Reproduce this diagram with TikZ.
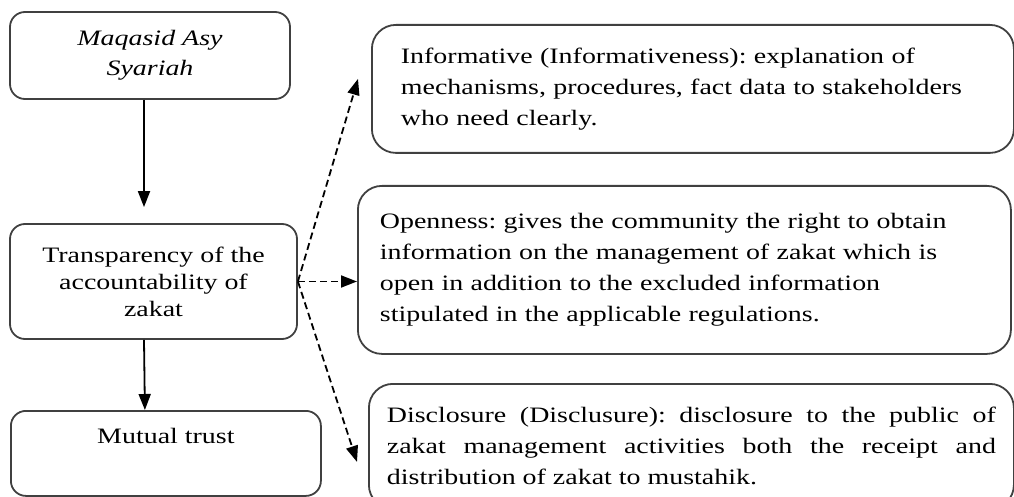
\documentclass[tikz,border=0pt]{standalone}
\usepackage{fontspec}
\setmainfont{Liberation Serif}[FakeStretch=1.27]
\usetikzlibrary{positioning}
\usetikzlibrary{arrows.meta}
\frenchspacing

\begin{document}
\begin{tikzpicture}[x=1pt, y=-1pt,
    box/.style={draw=black!75, line width=1.8pt, rounded corners=15pt, font=\fontsize{22}{27}\selectfont},
    info/.style={box, rounded corners=24pt, align=left, font=\fontsize{22}{31}\selectfont},
    flow/.style={line width=1.8pt, -{Triangle[length=16pt, width=12pt]}},
    link/.style={flow, dash pattern=on 7pt off 4pt}]
    \useasboundingbox (0,0) rectangle (1014,497);

    \node(maqasid) [box, minimum width=280, minimum height=87, align=center, font=\fontsize{22}{30}\selectfont\itshape] at (150,55.5) {Maqasid Asy\\Syariah};
    \node(transp) [box, minimum width=287, minimum height=115, align=center] at (153.5,281.5) {Transparency of the\\accountability of\\zakat};
    \node(trust) [box, anchor=north west, minimum width=310, inner ysep=18, text height=15, text depth=34] at (10,410) {Mutual trust};

    \node(inform) [info, anchor=north west, minimum width=642, minimum height=128, text width=584, inner xsep=29] at (371,24) {Informative (Informativeness): explanation of\\mechanisms, procedures, fact data to stakeholders\\who need clearly.};
    \node(open) [info, anchor=north west, minimum width=653, minimum height=168, text width=609, inner xsep=22] at (357,185) {Openness: gives the community the right to obtain\\information on the management of zakat which is\\open in addition to the excluded information\\stipulated in the applicable regulations.};
    \node(discl) [info, anchor=north west, align=justify, minimum width=645, minimum height=125, text width=609, inner xsep=18] at (368,383) {Disclosure (Disclusure): disclosure to the public of\linebreak zakat management activities both the receipt and\linebreak distribution of zakat to mustahik.};

    \draw[flow, shorten >=16pt] ([xshift=-6pt]maqasid.south) -- ([xshift=-9.5pt]transp.north);
    \draw[flow] ([xshift=-9.5pt]transp.south) -- ([xshift=-21pt]trust.north);

    \draw[link] (transp.east) -- ([xshift=-13pt, yshift=10pt]inform.west);
    \draw[link] (transp.east) -- (transp.east -| open.west);
    \draw[link] (transp.east) -- ([xshift=-11pt, yshift=-15.5pt]discl.west);
\end{tikzpicture}
\end{document}
